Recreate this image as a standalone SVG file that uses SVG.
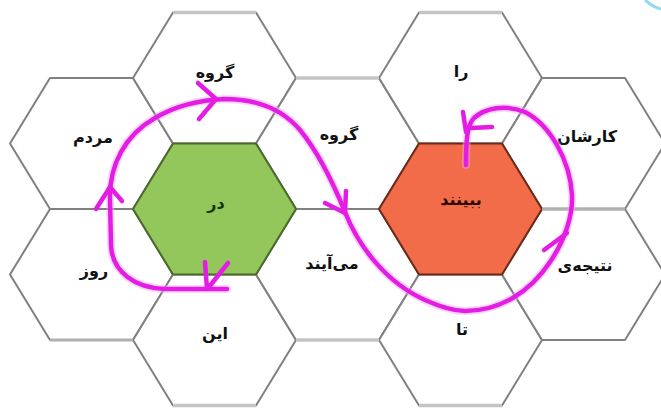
<svg xmlns="http://www.w3.org/2000/svg" width="661" height="408" viewBox="0 0 661 408">
<style>
.hex{fill:#ffffff;stroke:#808080;stroke-width:2;stroke-linejoin:round}
.edge{stroke:#c4c4c4;stroke-width:3.5;fill:none}
.lbl{font-family:"DejaVu Sans","Noto Sans",sans-serif;font-weight:bold;font-size:16px;fill:#111111;text-anchor:middle}
.ink{fill:none;stroke:#e31de4;stroke-width:4.5;stroke-linecap:round;stroke-linejoin:round}
.glow{fill:none;stroke:#f6a6f6;stroke-width:8;stroke-linecap:round;stroke-linejoin:round;opacity:0.45}
</style>
<rect width="661" height="408" fill="#ffffff"/>
<path d="M645,0 Q653,7 661,9" fill="none" stroke="#8fdcec" stroke-width="3"/>
<g id="nodes">
<g id="n-mardom"><polygon class="hex" points="10,143.5 50,78 133,78 173,143.5 133,209 50,209"/><text class="lbl" x="93" y="143">مردم</text></g>
<g id="n-ruz"><polygon class="hex" points="10,274.5 50,209 133,209 173,274.5 133,340 50,340"/><text class="lbl" x="94" y="276">روز</text></g>
<g id="n-goruh1"><polygon class="hex" points="133,78 173,12.5 256,12.5 296,78 256,143.5 173,143.5"/><text class="lbl" x="215" y="78">گروه</text></g>
<g id="n-in"><polygon class="hex" points="133,340 173,274.5 256,274.5 296,340 256,405.5 173,405.5"/><text class="lbl" x="215" y="339">این</text></g>
<g id="n-goruh2"><polygon class="hex" points="256,143.5 296,78 379,78 419,143.5 379,209 296,209"/><text class="lbl" x="339" y="140">گروه</text></g>
<g id="n-miayand"><polygon class="hex" points="256,274.5 296,209 379,209 419,274.5 379,340 296,340"/><text class="lbl" x="332" y="269">می‌آیند</text></g>
<g id="n-ra"><polygon class="hex" points="379,78 419,12.5 502,12.5 542,78 502,143.5 419,143.5"/><text class="lbl" x="461" y="77">را</text></g>
<g id="n-ta"><polygon class="hex" points="379,340 419,274.5 502,274.5 542,340 502,405.5 419,405.5"/><text class="lbl" x="462" y="335">تا</text></g>
<g id="n-karshan"><polygon class="hex" points="502,143.5 542,78 625,78 665,143.5 625,209 542,209"/><text class="lbl" x="587" y="142">کارشان</text></g>
<g id="n-natije"><polygon class="hex" points="502,274.5 542,209 625,209 665,274.5 625,340 542,340"/><text class="lbl" x="585" y="271">نتیجه‌ی</text></g>
<g id="n-dar"><polygon points="133,209 173,143.5 256,143.5 296,209 256,274.5 173,274.5" fill="#93c65b" stroke="#4a6a2c" stroke-width="2"/><text class="lbl" x="216" y="209" style="fill:#16330a">در</text></g>
<g id="n-binand"><polygon points="379,209 419,143.5 502,143.5 542,209 502,274.5 419,274.5" fill="#f36c49" stroke="#6b2a18" stroke-width="2"/><text class="lbl" x="461" y="205" style="fill:#2a0600">ببینند</text></g>
</g>
<g id="edges">
<line class="edge" x1="173" y1="12.5" x2="256" y2="12.5"/>
<line class="edge" x1="419" y1="12.5" x2="502" y2="12.5"/>
<line class="edge" x1="296" y1="78" x2="379" y2="78"/>
<line class="edge" x1="296" y1="340" x2="379" y2="340"/>
<line class="edge" x1="173" y1="405.5" x2="256" y2="405.5"/>
<line class="edge" x1="419" y1="405.5" x2="502" y2="405.5"/>
<line class="edge" x1="542" y1="209" x2="625" y2="209" style="stroke:#b0b0b0"/>
<line class="edge" x1="50" y1="340" x2="133" y2="340" style="stroke:#b0b0b0;stroke-width:3"/>
</g>
<g id="connectors">
<path class="glow" d="M227,289 L165,289 C135,288 112,272 111,245 L110,200 C109,165 125,135 155,118 C175,106 200,100 225,99 C258,99 283,110 300,130 C318,152 332,180 345,212 C358,245 385,282 425,300 C445,309 455,311 465,311 C500,311 530,292 550,262 C565,240 573,215 572,195 C570,160 550,125 525,112 C505,104 485,108 474,118 C467,125 466,140 466,165"/>
<path class="ink" d="M227,289 L165,289 C135,288 112,272 111,245 L110,200 C109,165 125,135 155,118 C175,106 200,100 225,99 C258,99 283,110 300,130 C318,152 332,180 345,212 C358,245 385,282 425,300 C445,309 455,311 465,311 C500,311 530,292 550,262 C565,240 573,215 572,195 C570,160 550,125 525,112 C505,104 485,108 474,118 C467,125 466,140 466,165"/>
<path class="ink" d="M205,262 L207,289 M228,263 L209,287"/>
<path class="ink" d="M96,209 L110,187 L122,201"/>
<path class="ink" d="M198,83 L216,99 L199,119"/>
<path class="ink" d="M325,203 L345,213 L346,191"/>
<path class="ink" d="M544,250 L567,233"/>
<path class="ink" d="M463,112 L466,132 M471,128 L492,127"/>
</g>
</svg>
